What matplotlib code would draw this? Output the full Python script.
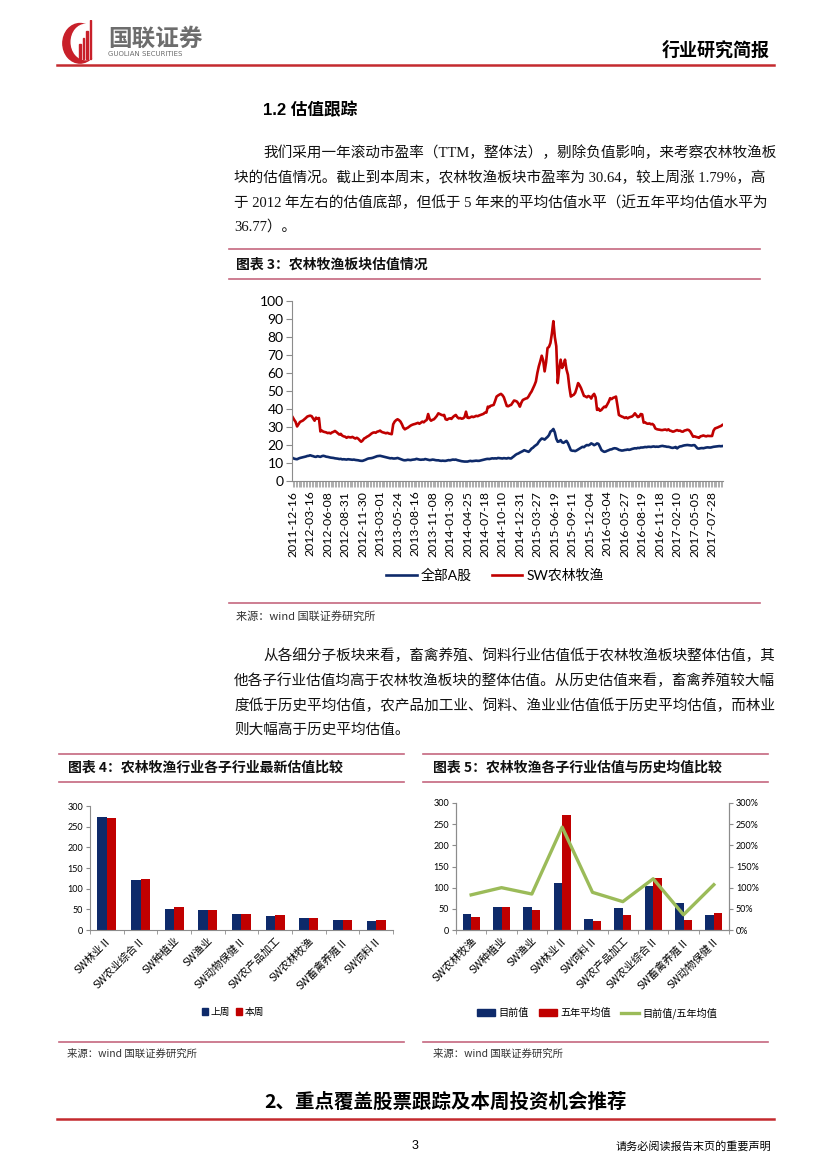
import numpy as np
import matplotlib
matplotlib.use('Agg')
import matplotlib.pyplot as plt
from matplotlib.lines import Line2D
from matplotlib.patches import Patch, Ellipse, Rectangle

# ---------------- data ----------------
# chart 3: weekly P/E, 2011-12-16 .. 2017-09
sw_agri = [
    35.4, 34.0, 32.8, 30.3, 31.5, 32.8, 33.2, 33.6, 34.3, 35.0, 35.8, 36.1,
    36.3, 36.0, 34.8, 33.5, 35.2, 34.6, 35.0, 27.5, 28.0, 27.4, 27.2, 27.0,
    26.6, 26.8, 26.4, 27.0, 27.3, 27.8, 27.2, 26.5, 25.8, 26.2, 25.2, 24.8,
    24.6, 24.0, 24.5, 24.3, 24.2, 24.5, 24.0, 23.6, 24.0, 23.5, 22.6, 21.8,
    22.5, 23.6, 24.0, 24.6, 25.0, 25.6, 26.3, 26.8, 27.0, 26.8, 27.4, 27.6,
    28.0, 27.3, 27.0, 26.8, 26.5, 26.8, 26.4, 26.2, 26.0, 31.5, 33.0, 33.8,
    34.3, 33.8, 33.0, 31.5, 29.6, 28.7, 29.2, 29.6, 30.2, 30.8, 31.2, 31.5,
    31.7, 32.0, 32.3, 31.8, 32.4, 33.0, 32.6, 33.4, 33.9, 37.2, 34.5, 33.5,
    34.0, 34.3, 35.2, 36.2, 37.6, 37.2, 36.8, 36.5, 36.7, 34.3, 34.0, 34.6,
    34.8, 34.5, 35.5, 36.2, 36.7, 35.5, 34.8, 35.0, 34.6, 34.8, 35.5, 38.5,
    35.2, 35.0, 35.4, 35.8, 35.5, 35.8, 36.2, 36.0, 36.4, 36.7, 37.0, 37.3,
    38.0, 38.0, 41.3, 41.0, 41.8, 42.0, 42.3, 44.5, 46.9, 47.5, 48.0, 48.4,
    47.7, 46.5, 44.0, 41.7, 41.5, 42.0, 42.3, 43.5, 44.7, 44.5, 44.1, 43.0,
    41.3, 43.5, 45.0, 45.4, 45.8, 46.0, 47.0, 48.5, 49.7, 51.5, 53.2, 55.3,
    60.0, 63.7, 66.5, 69.6, 67.0, 60.9, 66.0, 73.9, 74.5, 76.7, 82.0, 88.8,
    80.0, 74.9, 54.4, 62.0, 67.4, 62.8, 64.5, 67.4, 62.0, 59.0, 52.0, 46.9,
    47.5, 47.9, 49.0, 51.5, 54.4, 53.2, 51.6, 49.5, 47.3, 47.0, 46.5, 47.2,
    46.9, 45.8, 47.5, 48.4, 46.5, 39.5, 40.2, 39.0, 39.5, 40.5, 41.3, 41.0,
    42.5, 44.0, 46.0, 45.5, 46.2, 46.5, 46.9, 42.0, 36.7, 36.2, 35.8, 35.5,
    35.0, 35.4, 34.8, 35.3, 35.6, 35.8, 36.5, 37.6, 36.5, 35.5, 35.8, 37.2,
    37.0, 32.4, 32.6, 32.0, 31.8, 32.0, 31.5, 31.7, 31.0, 29.2, 28.8, 28.6,
    28.5, 28.3, 28.3, 28.5, 28.6, 28.2, 28.7, 28.0, 27.8, 27.4, 27.6, 28.0,
    28.3, 27.9, 28.0, 27.5, 27.4, 28.0, 28.2, 28.5, 28.3, 27.5, 26.0, 24.6,
    24.8, 24.5, 24.3, 24.0, 24.8, 25.0, 25.3, 25.0, 24.8, 25.1, 25.0, 25.0,
    25.0, 28.0, 29.2, 29.5, 29.8, 30.2, 30.5, 31.1,
]
all_a = [
    12.8, 12.4, 12.2, 12.1, 12.5, 12.8, 13.0, 13.2, 13.4, 13.6, 13.9, 14.0,
    14.3, 14.0, 13.8, 13.5, 13.4, 13.8, 13.6, 13.4, 13.8, 14.0, 13.8, 13.5,
    13.4, 13.2, 13.0, 12.9, 12.8, 12.6, 12.5, 12.4, 12.2, 12.3, 12.0, 12.1,
    12.0, 11.9, 12.1, 12.0, 11.9, 11.8, 11.9, 11.7, 11.6, 11.5, 11.3, 11.2,
    11.2, 11.5, 11.8, 12.2, 12.5, 12.6, 12.7, 12.9, 13.2, 13.5, 13.8, 13.9,
    14.0, 13.8, 13.6, 13.4, 13.2, 13.0, 12.8, 12.6, 12.7, 12.5, 12.5, 12.6,
    12.8, 12.5, 12.2, 11.9, 11.6, 11.5, 11.6, 11.8, 11.7, 11.6, 11.8, 11.9,
    12.0, 12.3, 12.1, 11.9, 11.8, 11.9, 11.9, 12.2, 12.0, 11.8, 11.6, 11.7,
    11.9, 11.8, 11.6, 11.5, 11.5, 11.3, 11.2, 11.3, 11.2, 11.2, 11.4, 11.6,
    11.5, 11.7, 11.9, 11.8, 11.9, 11.6, 11.4, 11.2, 11.0, 10.9, 10.8, 10.8,
    10.8, 11.0, 11.2, 11.0, 11.1, 11.2, 11.3, 11.2, 11.2, 11.4, 11.6, 11.8,
    12.0, 12.2, 12.3, 12.2, 12.4, 12.6, 12.5, 12.6, 12.5, 12.8, 12.7, 12.6,
    12.5, 12.7, 12.6, 12.5, 12.8, 12.6, 12.5, 13.2, 13.8, 14.5, 15.0, 15.3,
    15.8, 16.2, 16.6, 17.1, 16.8, 16.5, 16.2, 17.0, 18.0, 18.5, 19.3, 19.9,
    20.5, 21.8, 22.8, 23.6, 23.4, 23.0, 23.8, 24.5, 25.5, 27.4, 28.0, 28.9,
    27.0, 23.5, 21.8, 22.0, 22.7, 21.5, 21.2, 21.8, 22.3, 21.0, 19.0, 17.1,
    16.8, 16.8, 16.6, 17.0, 17.5, 18.0, 18.5, 19.0, 18.8, 19.5, 20.0, 19.8,
    20.2, 20.9, 20.5, 19.9, 20.3, 20.9, 20.6, 19.0, 17.2, 16.6, 16.2, 16.4,
    16.8, 17.1, 17.5, 17.6, 18.0, 18.2, 18.1, 17.8, 17.3, 17.1, 16.9, 17.0,
    17.2, 17.3, 17.5, 17.3, 17.5, 17.8, 18.0, 18.2, 18.1, 18.4, 18.3, 18.6,
    18.6, 18.7, 18.9, 18.8, 19.0, 19.0, 18.9, 19.1, 19.2, 19.0, 19.1, 19.0,
    19.2, 19.4, 19.5, 19.3, 19.2, 19.0, 19.0, 18.8, 18.5, 18.4, 18.6, 18.9,
    18.1, 18.8, 19.2, 19.3, 19.6, 19.8, 19.9, 20.0, 19.9, 19.8, 19.7, 19.9,
    19.9, 19.0, 18.1, 18.0, 18.2, 18.3, 18.2, 18.4, 18.6, 18.7, 18.6, 18.6,
    18.8, 19.0, 19.1, 19.2, 19.3, 19.4, 19.3, 19.4,
]
date_labels = ['2011-12-16', '2012-03-16', '2012-06-08', '2012-08-31', '2012-11-30',
               '2013-03-01', '2013-05-24', '2013-08-16', '2013-11-08', '2014-01-30',
               '2014-04-25', '2014-07-18', '2014-10-10', '2014-12-31', '2015-03-27',
               '2015-06-19', '2015-09-11', '2015-12-04', '2016-03-04', '2016-05-27',
               '2016-08-19', '2016-11-18', '2017-02-10', '2017-05-05', '2017-07-28']

# chart 4
cats4 = ['SW林业Ⅱ', 'SW农业综合Ⅱ', 'SW种植业', 'SW渔业', 'SW动物保健Ⅱ',
         'SW农产品加工', 'SW农林牧渔', 'SW畜禽养殖Ⅱ', 'SW饲料Ⅱ']
last_week = [274, 121, 52, 48, 39, 34, 30, 24, 21]
this_week = [272, 123, 55, 48, 39, 36, 30, 24, 23]

# chart 5
cats5 = ['SW农林牧渔', 'SW种植业', 'SW渔业', 'SW林业Ⅱ', 'SW饲料Ⅱ',
         'SW农产品加工', 'SW农业综合Ⅱ', 'SW畜禽养殖Ⅱ', 'SW动物保健Ⅱ']
current = [38, 55, 55, 112, 25, 52, 103, 64, 36]
avg_5y = [31, 55, 47, 272, 22, 35, 124, 24, 39]
ratio_pct = [83, 100, 85, 243, 89, 67, 121, 36, 107]

# ---------------- style ----------------
NAVY = '#0e2a6a'
RED = '#c00000'
GREEN = '#9bbb59'
PINK = '#c5677f'
HDR_RED = '#c42a2f'
GRAY = '#8c8c8c'
BODY = ['Liberation Serif', 'Noto Sans CJK SC']
CJK = ['Noto Sans CJK SC', 'DejaVu Sans']
CHART = ['Lato', 'Noto Sans CJK SC']

W, H = 827, 1169
fig = plt.figure(figsize=(W / 100, H / 100), dpi=100)


def fx(x):
    return x / W


def fy(y):
    return 1 - y / H


def rect(l, t, r, b):
    return [l / W, 1 - b / H, (r - l) / W, (b - t) / H]


def hline(y, x0, x1, color=PINK, lw=1.2):
    fig.add_artist(Line2D([fx(x0), fx(x1)], [fy(y), fy(y)],
                          transform=fig.transFigure, color=color, lw=lw))


def txt(x, y, s, size, family=BODY, **kw):
    fig.text(fx(x), fy(y), s, fontsize=size, family=family, va='center', **kw)


# ---------------- header ----------------
logo = fig.add_axes(rect(58, 20, 102, 64))
logo.set_xlim(0, 1)
logo.set_ylim(0, 1)
logo.axis('off')
logo.add_patch(Ellipse((0.5, 0.47), 0.78, 0.9, color='#c8202a'))
logo.add_patch(Ellipse((0.63, 0.5), 0.66, 0.8, color='white'))
for bx, bh in [(0.48, 0.45), (0.56, 0.6), (0.64, 0.75), (0.72, 1.0)]:
    logo.add_patch(Rectangle((bx, 0.12), 0.035, bh - 0.12, color='#c8202a'))
txt(108, 39, '国联证券', 17, family=CJK, color='#6d6d6d', weight='bold')
txt(108, 54, 'GUOLIAN SECURITIES', 5, family=['DejaVu Sans'], color='#6d6d6d')
txt(770, 50, '行业研究简报', 13, family=CJK, weight='bold', ha='right')
hline(65, 57, 774, color=HDR_RED, lw=1.8)

# ---------------- section text ----------------
txt(263, 110, '1.2 估值跟踪', 12, family=['Liberation Sans', 'Noto Sans CJK SC'], weight='bold')
para1 = ['我们采用一年滚动市盈率（TTM，整体法），剔除负值影响，来考察农林牧渔板',
         '块的估值情况。截止到本周末，农林牧渔板块市盈率为 30.64，较上周涨 1.79%，高',
         '于 2012 年左右的估值底部，但低于 5 年来的平均估值水平（近五年平均估值水平为',
         '36.77）。']
for k, line in enumerate(para1):
    txt(263 if k == 0 else 234, 153 + k * 24.7, line, 10.5, color='#111111')

hline(249, 229, 760)
txt(236, 265, '图表 3：农林牧渔板块估值情况', 10, family=CJK, weight='bold', color='#111111')
hline(279, 229, 760)

# ---------------- chart 3 ----------------
ax3 = fig.add_axes(rect(292, 301, 723, 481))
x = np.arange(len(sw_agri))
ax3.plot(x, all_a, color=NAVY, lw=1.9, label='全部A股')
ax3.plot(x, sw_agri, color=RED, lw=1.9, label='SW农林牧渔')
ax3.set_xlim(-0.5, len(sw_agri) - 0.5)
ax3.set_ylim(0, 100)
ax3.set_yticks(range(0, 101, 10))
ax3.set_xticks(np.arange(0, len(sw_agri), 12))
ax3.set_xticklabels(date_labels, rotation=90, family=CHART, fontsize=8.8)
ax3.set_xticks(x, minor=True)
for lab in ax3.get_yticklabels():
    lab.set_family(CHART)
ax3.tick_params(axis='y', labelsize=10, length=4, color=GRAY, pad=2)
ax3.tick_params(axis='x', which='both', length=4, color='#a0a0a0', width=0.6, pad=3)
for s in ['top', 'right']:
    ax3.spines[s].set_visible(False)
for s in ['left', 'bottom']:
    ax3.spines[s].set_color(GRAY)
    ax3.spines[s].set_linewidth(0.8)
ax3.legend(loc='center', bbox_to_anchor=(fx(495), fy(575)), bbox_transform=fig.transFigure,
           ncol=2, frameon=False, handlelength=2.2, handletextpad=0.3, columnspacing=1.4,
           prop={'family': CHART, 'size': 10})

hline(603, 229, 760)
txt(236, 616, '来源：wind 国联证券研究所', 8, family=CJK, color='#333333')

# ---------------- paragraph 2 ----------------
para2 = ['从各细分子板块来看，畜禽养殖、饲料行业估值低于农林牧渔板块整体估值，其',
         '他各子行业估值均高于农林牧渔板块的整体估值。从历史估值来看，畜禽养殖较大幅',
         '度低于历史平均估值，农产品加工业、饲料、渔业业估值低于历史平均估值，而林业',
         '则大幅高于历史平均估值。']
for k, line in enumerate(para2):
    txt(263 if k == 0 else 234, 656 + k * 24.7, line, 10.5, color='#111111')

# ---------------- chart 4 ----------------
hline(754, 59, 404)
txt(68, 768, '图表 4：农林牧渔行业各子行业最新估值比较', 10, family=CJK, weight='bold', color='#111111')
hline(782, 59, 404)

ax4 = fig.add_axes(rect(90, 806, 393, 930))
i4 = np.arange(len(cats4))
bw = 0.28
ax4.bar(i4 - bw / 2, last_week, bw, color=NAVY, label='上周')
ax4.bar(i4 + bw / 2, this_week, bw, color=RED, label='本周')
ax4.set_xlim(-0.5, len(cats4) - 0.5)
ax4.set_ylim(0, 300)
ax4.set_yticks(range(0, 301, 50))
ax4.set_xticks(i4)
ax4.set_xticklabels(cats4, rotation=45, ha='right', va='top', rotation_mode='anchor',
                    family=CJK, fontsize=7.6)
ax4.set_xticks(np.arange(-0.5, len(cats4), 1), minor=True)
ax4.tick_params(axis='x', which='major', length=0, pad=4)
ax4.tick_params(axis='x', which='minor', length=3, color=GRAY)
ax4.tick_params(axis='y', labelsize=6.5, length=3, color=GRAY, pad=2)
for lab in ax4.get_yticklabels():
    lab.set_family(CHART)
for s in ['top', 'right']:
    ax4.spines[s].set_visible(False)
for s in ['left', 'bottom']:
    ax4.spines[s].set_color(GRAY)
    ax4.spines[s].set_linewidth(0.8)
ax4.legend(handles=[Patch(color=NAVY, label='上周'), Patch(color=RED, label='本周')],
           loc='center', bbox_to_anchor=(fx(233), fy(1012)), bbox_transform=fig.transFigure,
           ncol=2, frameon=False, handlelength=0.6, handleheight=0.6, handletextpad=0.3,
           columnspacing=0.6, prop={'family': CJK, 'size': 7})

hline(1042, 59, 404)
txt(67, 1054, '来源：wind 国联证券研究所', 7.5, family=CJK, color='#333333')

# ---------------- chart 5 ----------------
hline(754, 423, 768)
txt(433, 768, '图表 5：农林牧渔各子行业估值与历史均值比较', 10, family=CJK, weight='bold', color='#111111')
hline(782, 423, 768)

ax5 = fig.add_axes(rect(456, 803, 729, 930))
i5 = np.arange(len(cats5))
bw5 = 0.28
ax5.bar(i5 - bw5 / 2, current, bw5, color=NAVY)
ax5.bar(i5 + bw5 / 2, avg_5y, bw5, color=RED)
ax5.set_xlim(-0.5, len(cats5) - 0.5)
ax5.set_ylim(0, 300)
ax5.set_yticks(range(0, 301, 50))
ax5.set_xticks(i5)
ax5.set_xticklabels(cats5, rotation=45, ha='right', va='top', rotation_mode='anchor',
                    family=CJK, fontsize=7.6)
ax5.set_xticks(np.arange(-0.5, len(cats5), 1), minor=True)
ax5.tick_params(axis='x', which='major', length=0, pad=4)
ax5.tick_params(axis='x', which='minor', length=3, color=GRAY)
ax5.tick_params(axis='y', labelsize=6.5, length=3, color=GRAY, pad=2)
for lab in ax5.get_yticklabels():
    lab.set_family(CHART)
ax5r = ax5.twinx()
ax5r.plot(i5, ratio_pct, color=GREEN, lw=2.4)
ax5r.set_ylim(0, 300)
ax5r.set_yticks(range(0, 301, 50))
ax5r.set_yticklabels([f'{v}%' for v in range(0, 301, 50)], family=CHART)
ax5r.tick_params(axis='y', labelsize=6.5, length=3, color=GRAY, pad=2)
for a in (ax5, ax5r):
    a.spines['top'].set_visible(False)
    for s in ['left', 'right', 'bottom']:
        a.spines[s].set_color(GRAY)
        a.spines[s].set_linewidth(0.8)
ax5r.legend(handles=[Patch(color=NAVY, label='目前值'), Patch(color=RED, label='五年平均值'),
                     Line2D([], [], color=GREEN, lw=2.4, label='目前值/五年均值')],
            loc='center', bbox_to_anchor=(fx(597), fy(1013)), bbox_transform=fig.transFigure,
            ncol=3, frameon=False, handlelength=1.8, handleheight=0.6, handletextpad=0.3,
            columnspacing=1.0, prop={'family': CJK, 'size': 7.3})

hline(1042, 423, 768)
txt(433, 1054, '来源：wind 国联证券研究所', 7.5, family=CJK, color='#333333')

# ---------------- footer ----------------
txt(446, 1102, '2、重点覆盖股票跟踪及本周投资机会推荐', 14, family=CJK, weight='bold', ha='center')
hline(1119, 57, 774, color=HDR_RED, lw=1.8)
txt(415, 1146, '3', 9, family=['Liberation Sans'], ha='center')
txt(771, 1146, '请务必阅读报告末页的重要声明', 8, family=CJK, ha='right')

fig.savefig('out.png', dpi=100)
